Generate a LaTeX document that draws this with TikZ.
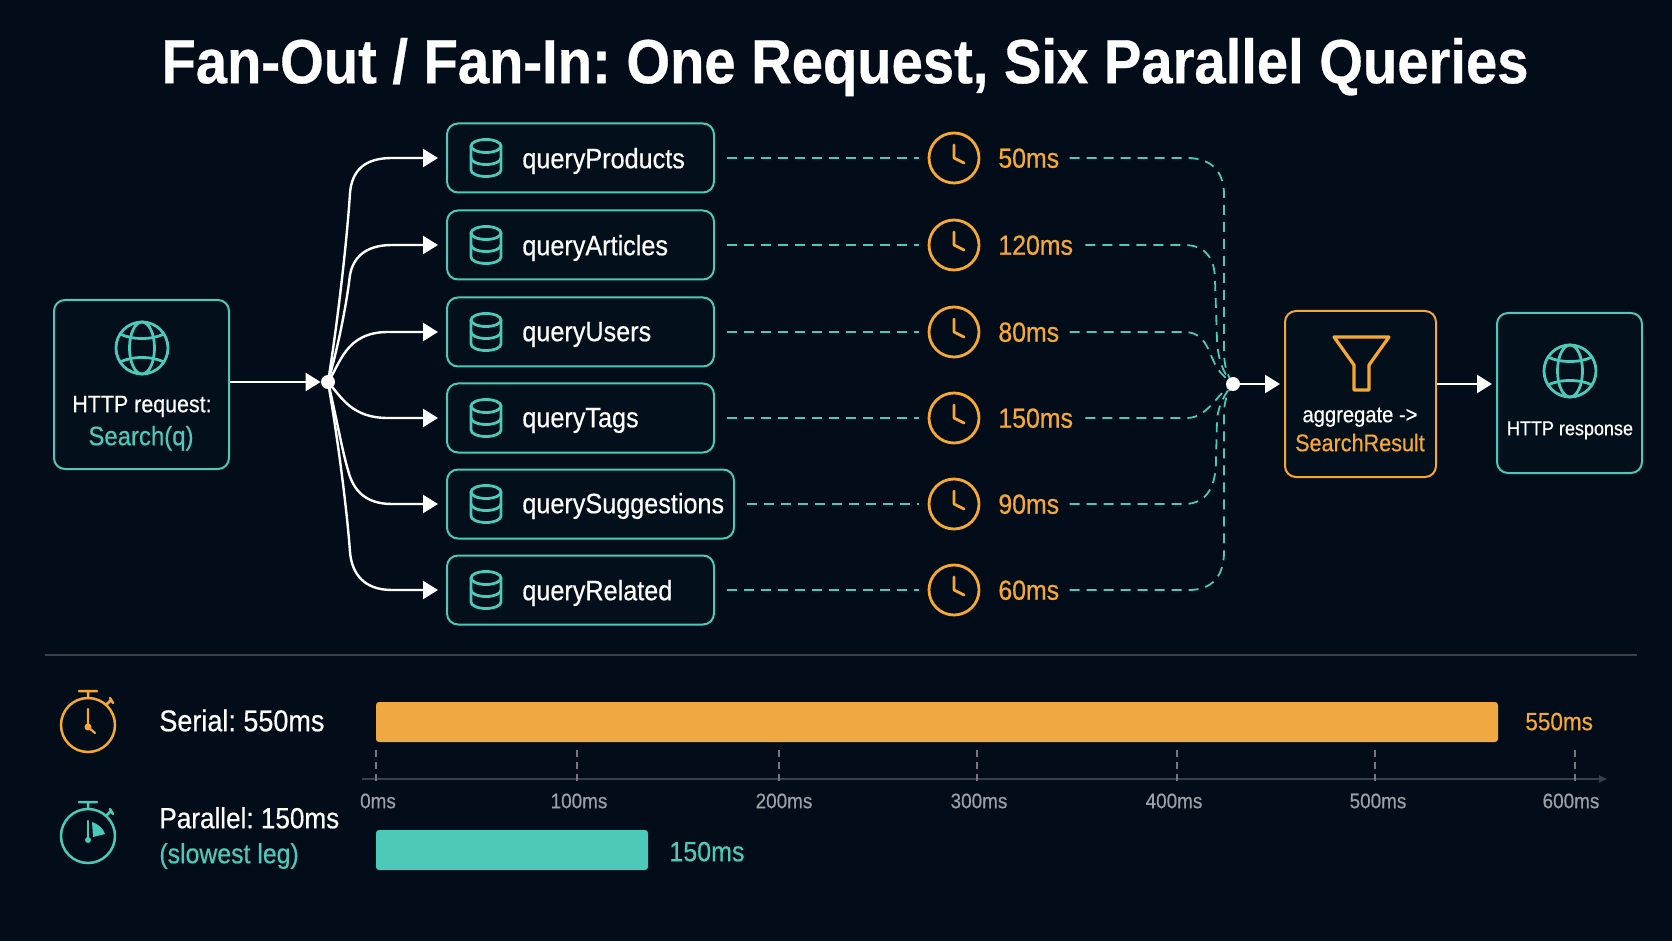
\documentclass[tikz,border=0pt]{standalone}
\usepackage{fontspec}
\setmainfont[FakeStretch=0.9,FakeBold=0.5]{Liberation Sans}
\usetikzlibrary{arrows.meta,calc}
\definecolor{bgc}{HTML}{030D1A}
\definecolor{boxc}{HTML}{03101C}
\definecolor{teal}{HTML}{4CC9B8}
\definecolor{amber}{HTML}{F5A832}
\definecolor{barA}{HTML}{F0A843}
\definecolor{axisc}{HTML}{3A4048}
\definecolor{tickl}{HTML}{9AA0A6}
\newcommand\fsz[1]{\fontsize{#1}{#1}\selectfont}
\pgfdeclarelayer{under}
\pgfsetlayers{under,main}
\tikzset{
  x=0.5pt,y=-0.5pt,
  boxbase/.style={draw,line width=1pt,rounded corners=5.5pt,fill=boxc,inner sep=0pt,minimum height=34.5pt},
  qbox/.style={boxbase,draw=teal,minimum width=133.5pt},
  txt/.style={inner sep=0pt,text height=.72em,text depth=0pt},
  lbl/.style={txt,text=white,font=\fsz{13}},
  qlbl/.style={lbl,anchor=west,font=\fsz{14}},
  mslbl/.style={txt,anchor=west,text=amber,font=\fsz{13.8}},
  clockc/.style={circle,draw=amber,line width=1.4pt,minimum size=25pt,inner sep=0pt},
  dotn/.style={circle,fill=white,inner sep=0pt,minimum size=7pt},
  fanl/.style={draw=white,line width=1.2pt,-{Triangle[length=7.5pt,width=9pt]}},
  dashl/.style={draw=teal,line width=1pt,dash pattern=on 5pt off 3.5pt},
  joinl/.style={draw=teal,line width=0.9pt,dash pattern=on 5pt off 3.5pt},
  icont/.style={draw=teal,line width=1.4pt,line cap=round,line join=round},
  dbpic/.pic={
    \draw[icont] (-15,-12) -- (-15,12) arc[x radius=15,y radius=6.5,start angle=180,end angle=0] -- (15,-12);
    \draw[icont] (0,-12) ellipse[x radius=15,y radius=6.5];
    \draw[icont] (-15,0) arc[x radius=15,y radius=6.5,start angle=180,end angle=0];
  },
  globepic/.pic={
    \draw[icont] (0,0) circle[radius=26];
    \draw[icont] (0,0) ellipse[x radius=12.5,y radius=26];
    \draw[icont] (-22,-14) .. controls (-10,-8) and (10,-8) .. (22,-14);
    \draw[icont] (-22,14) .. controls (-10,8) and (10,8) .. (22,14);
  },
  handspic/.pic={
    \draw[draw=amber,line width=1.4pt,line cap=round,line join=round] (0,-13) -- (0,0) -- (10,5);
  },
}
\begin{document}
\frenchspacing
\begin{tikzpicture}
\begin{pgfonlayer}{under}
\useasboundingbox[fill=bgc] (0,0) rectangle (1672,941);
\end{pgfonlayer}

\node[txt,text=white,font=\fsz{31.2}\bfseries] (title) at (845,76) {Fan-Out / Fan-In: One Request, Six Parallel Queries};

% request
\node[boxbase,draw=teal,minimum width=87.5pt,minimum height=84.5pt] (req) at (141.5,384.5) {};
\pic at (142,348) {globepic};
\node[lbl,font=\fsz{11.9}] (reqa) at (142,405) {HTTP request:};
\node[lbl,text=teal,font=\fsz{13.3}] (reqb) at (141,438) {Search(q)};
\node[dotn] (fo) at (328,382) {};

% queries
\node[qbox] (q1) at (580.5,158) {};
\node[qbox] (q2) at (580.5,245) {};
\node[qbox] (q3) at (580.5,332) {};
\node[qbox] (q4) at (580.5,418) {};
\node[qbox,minimum width=143.5pt] (q5) at (590.5,504) {};
\node[qbox] (q6) at (580.5,590) {};
\foreach \y in {158,245,332,418,504,590} \pic at (486,\y) {dbpic};
\node[qlbl] (t1) at (522,161) {queryProducts};
\node[qlbl] (t2) at (522,248) {queryArticles};
\node[qlbl] (t3) at (522,334) {queryUsers};
\node[qlbl] (t4) at (522,420) {queryTags};
\node[qlbl] (t5) at (522,506) {querySuggestions};
\node[qlbl] (t6) at (522,593) {queryRelated};

% clocks
\node[clockc] (c1) at (954,158) {};
\node[clockc] (c2) at (954,245) {};
\node[clockc] (c3) at (954,332) {};
\node[clockc] (c4) at (954,418) {};
\node[clockc] (c5) at (954,504) {};
\node[clockc] (c6) at (954,590) {};
\foreach \y in {158,245,332,418,504,590} \pic at (954,\y) {handspic};
\node[mslbl] (m1) at (998,160.5) {50ms};
\node[mslbl] (m2) at (998,247.5) {120ms};
\node[mslbl] (m3) at (998,334.5) {80ms};
\node[mslbl] (m4) at (998,420.5) {150ms};
\node[mslbl] (m5) at (998,506.5) {90ms};
\node[mslbl] (m6) at (998,592.5) {60ms};

% box to clock
\foreach \i in {1,...,6} \draw[dashl,shorten <=6pt,shorten >=4.5pt] (q\i.east) -- (c\i.west);

% fan-in
\node[dotn] (fi) at (1233,384) {};
\begin{pgfonlayer}{under}
\draw[joinl] (m1.east |- c1) ++(10,0) -- (1187,158) .. controls (1210,158) and (1224,170) .. (1224,195) -- (1224,350) .. controls (1224,368) and (1228,376) .. (fi.center);
\draw[joinl] (m2.east |- c2) ++(12,0) -- (1184,245) .. controls (1205,245) and (1215,258) .. (1215,280) -- (1217,340) .. controls (1218,362) and (1225,376) .. (fi.center);
\draw[joinl] (m3.east |- c3) ++(10,0) -- (1184,332) .. controls (1205,332) and (1208,350) .. (1214,362) .. controls (1218,372) and (1226,378) .. (fi.center);
\draw[joinl] (m4.east |- c4) ++(12,0) -- (1187,418) .. controls (1208,418) and (1218,392) .. (fi.center);
\draw[joinl] (m5.east |- c5) ++(10,0) -- (1184,504) .. controls (1208,504) and (1216,485) .. (1216,460) -- (1217,420) .. controls (1218,405) and (1226,392) .. (fi.center);
\draw[joinl] (m6.east |- c6) ++(10,0) -- (1189,590) .. controls (1212,590) and (1224,576) .. (1224,552) -- (1224,415) .. controls (1224,400) and (1228,392) .. (fi.center);
\end{pgfonlayer}

% fan-out
\draw[fanl] (req.east |- fo) -- (fo);
\draw[fanl,shorten >=4pt] (fo.center) .. controls (338,320) and (347,240) .. (350,193) .. controls (352,170) and (365,158) .. (392,158) -- (q1.west);
\draw[fanl,shorten >=4pt] (fo.center) .. controls (340,340) and (347,300) .. (350,275) .. controls (353,258) and (365,245) .. (392,245) -- (q2.west);
\draw[fanl,shorten >=4pt] (fo.center) .. controls (340,365) and (345,332) .. (388,332) -- (q3.west);
\draw[fanl,shorten >=4pt] (fo.center) .. controls (342,398) and (352,418) .. (388,418) -- (q4.west);
\draw[fanl,shorten >=4pt] (fo.center) .. controls (337,420) and (342,450) .. (348,470) .. controls (353,490) and (365,504) .. (392,504) -- (q5.west);
\draw[fanl,shorten >=4pt] (fo.center) .. controls (338,440) and (347,510) .. (350,552) .. controls (352,575) and (365,590) .. (392,590) -- (q6.west);

% aggregate
\node[boxbase,draw=amber,minimum width=75.5pt,minimum height=83pt] (agg) at (1360.5,394) {};
\draw[draw=amber,line width=1.6pt,line join=round] (1334,337) -- (1389,337) -- (1369,365) -- (1369,390) -- (1354,390) -- (1354,365) -- cycle;
\node[lbl,font=\fsz{11.2}] (agga) at (1360,415) {aggregate ->};
\node[lbl,text=amber,font=\fsz{12}] (aggb) at (1360,444) {SearchResult};

% response
\node[boxbase,draw=teal,minimum width=72.5pt,minimum height=80pt] (resp) at (1569.5,393) {};
\pic at (1570,371) {globepic};
\node[lbl,font=\fsz{10}] (respa) at (1570,428) {HTTP response};

\draw[fanl,shorten >=2pt] (fi) -- (agg.west |- fi);
\draw[fanl,shorten >=2pt] (agg.east |- fi) -- (resp.west |- fi);

% divider
\coordinate (dl) at (45,655);
\coordinate (dr) at (1637,655);
\draw[axisc,line width=0.8pt] (dl) -- (dr);

% bars
\node[fill=barA,rounded corners=1.5pt,inner sep=0pt,minimum width=561pt,minimum height=20pt] (serial) at (937,722) {};
\node[fill=teal,rounded corners=1.5pt,inner sep=0pt,minimum width=136pt,minimum height=20pt] (par) at (512,850) {};
\node[txt,anchor=west,text=amber,font=\fsz{12.5}] (sl) at (1525,723) {550ms};
\node[txt,anchor=west,text=teal,font=\fsz{13.9}] (pl) at (669,854) {150ms};
\node[lbl,anchor=west,font=\fsz{15}] (st) at (159,724) {Serial: 550ms};
\node[lbl,anchor=west,font=\fsz{14.5}] (pt) at (159,821) {Parallel: 150ms};
\node[lbl,anchor=west,text=teal,font=\fsz{13.8}] (pt2) at (159,856) {(slowest leg)};

% axis
\coordinate (a0) at (362,779);
\coordinate (a1) at (1607,779);
\draw[axisc,line width=0.9pt,-{Triangle[length=4pt,width=3.5pt]}] (a0) -- (a1);
\foreach \x in {376,577,779,977,1177,1375,1575}
  \draw[axisc!70!white,line width=0.7pt,dash pattern=on 3.5pt off 2.5pt] (\x,750) -- (\x,786);
\foreach \x/\t in {378/0ms,579/100ms,784/200ms,979/300ms,1174/400ms,1378/500ms,1571/600ms}
  \node[txt,text=tickl,font=\fsz{10.5}] at (\x,801) {\t};

% stopwatches
\node[circle,draw=amber,line width=1.25pt,minimum size=27pt,inner sep=0pt] (sw1) at (88,725) {};
\draw[amber,line width=1.25pt,line cap=round] (79,691) -- (97,691) (88,691) -- (88,698) (106,705) -- (111,700) (110,698) -- (113,703);
\draw[amber,line width=1.1pt,line cap=round] (88,709) -- (88,727) -- (95,733);
\fill[amber] (88,727) circle[radius=3.5];
\node[circle,draw=teal,line width=1.25pt,minimum size=27pt,inner sep=0pt] (sw2) at (88,836) {};
\draw[teal,line width=1.25pt,line cap=round] (79,802) -- (97,802) (88,802) -- (88,809) (106,816) -- (111,811) (110,809) -- (113,814);
\draw[teal,line width=1.1pt,line cap=round] (88,821) -- (88,840);
\fill[teal] (88,840) circle[radius=3];
\fill[teal] (92,822) .. controls (98,824) and (103,828) .. (105,834) -- (93,837) -- cycle;
\end{tikzpicture}
\end{document}
